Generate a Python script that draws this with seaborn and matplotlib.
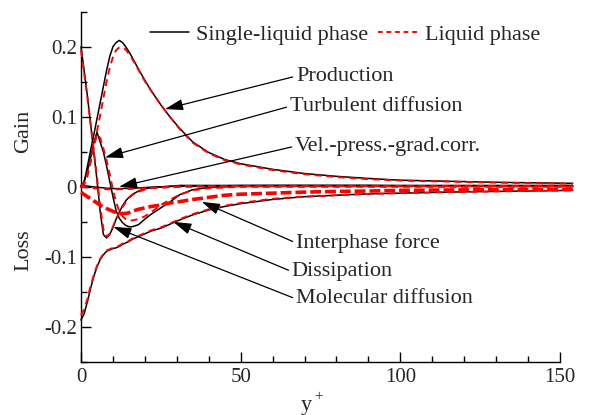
import numpy as np
import pandas as pd
import matplotlib
matplotlib.use("Agg")
import matplotlib.pyplot as plt
from matplotlib.lines import Line2D
from matplotlib.ticker import MultipleLocator, FixedLocator, FuncFormatter
import seaborn as sns

# ---------------- data ----------------
yplus = [0, 1, 2, 3, 4, 5, 6, 7, 8, 9, 10, 11, 12, 13, 14, 15, 16, 18, 20, 22,
         25, 28, 31, 35, 40, 45, 50, 60, 70, 80, 90, 100, 115, 130, 154]

# single-liquid phase (black solid)
prod_single = [0, 0.007, 0.029, 0.052, 0.074, 0.097, 0.12, 0.143, 0.166, 0.186, 0.2,
               0.206, 0.209, 0.206, 0.2, 0.193, 0.185, 0.168, 0.152, 0.137,
               0.117, 0.099, 0.083, 0.064, 0.049, 0.039, 0.033, 0.025, 0.019, 0.015,
               0.012, 0.0095, 0.008, 0.0065, 0.005]
turb_single = [0, 0.008, 0.022, 0.041, 0.063, 0.078, 0.064, 0.05, 0.03, 0.008, -0.014,
               -0.034, -0.045, -0.051, -0.055, -0.057, -0.057, -0.054, -0.046, -0.039,
               -0.03, -0.021, -0.011, -0.004, -0.001, 0.0, 0.001, 0.001, 0.001, 0.001,
               0.001, 0.001, 0.001, 0.001, 0.001]
vpg_single = [0.002, 0.0015, 0.001, 0.0005, 0.0, -0.0005, -0.001, -0.0015, -0.002, -0.002,
              -0.0025, -0.0025, -0.0025, -0.0025, -0.0022, -0.002, -0.002, -0.0015, -0.001, -0.0005,
              0.0, 0.0005, 0.0008, 0.001, 0.0012, 0.0015, 0.0018, 0.002, 0.002, 0.002,
              0.002, 0.002, 0.002, 0.002, 0.002]
diss_single = [-0.19, -0.181, -0.164, -0.145, -0.128, -0.114, -0.104, -0.097, -0.092, -0.09,
               -0.088, -0.087, -0.085, -0.082, -0.08, -0.078, -0.075, -0.071, -0.067, -0.063,
               -0.059, -0.053, -0.047, -0.04, -0.033, -0.028, -0.024, -0.018, -0.014, -0.012,
               -0.01, -0.009, -0.0075, -0.0065, -0.005]
mol_single = [0.2, 0.165, 0.13, 0.09, 0.05, 0.01, -0.035, -0.068, -0.073, -0.068,
              -0.058, -0.046, -0.036, -0.027, -0.02, -0.015, -0.011, -0.006, -0.003, -0.001,
              0.0, 0.001, 0.002, 0.002, 0.002, 0.002, 0.002, 0.002, 0.002, 0.002,
              0.002, 0.0015, 0.0015, 0.001, 0.001]

# liquid phase (red dashed)
prod_liquid = [0, 0.003, 0.015, 0.035, 0.057, 0.079, 0.102, 0.126, 0.15, 0.17, 0.185,
               0.195, 0.199, 0.199, 0.196, 0.19, 0.183, 0.167, 0.151, 0.137,
               0.117, 0.099, 0.082, 0.063, 0.048, 0.038, 0.032, 0.024, 0.018, 0.014,
               0.011, 0.009, 0.0075, 0.006, 0.0045]
turb_liquid = [0, 0.006, 0.018, 0.036, 0.057, 0.075, 0.07, 0.055, 0.038, 0.018, -0.004,
               -0.022, -0.035, -0.042, -0.046, -0.048, -0.048, -0.046, -0.042, -0.036,
               -0.026, -0.018, -0.011, -0.005, -0.002, -0.001, 0.0, 0.0, 0.0, 0.0,
               0.0, 0.0, 0.0, 0.0, 0.0]
vpg_liquid = [0.0, -0.0005, -0.001, -0.0015, -0.002, -0.0025, -0.003, -0.003, -0.0035, -0.0035,
              -0.0035, -0.0035, -0.0035, -0.0033, -0.003, -0.003, -0.0028, -0.0025, -0.002, -0.0015,
              -0.001, -0.0005, 0.0, 0.0, 0.0005, 0.0005, 0.001, 0.001, 0.001, 0.001,
              0.001, 0.001, 0.001, 0.001, 0.001]
diss_liquid = [-0.183, -0.175, -0.16, -0.142, -0.126, -0.113, -0.103, -0.096, -0.091, -0.089,
               -0.087, -0.086, -0.084, -0.081, -0.079, -0.077, -0.074, -0.07, -0.066, -0.062,
               -0.058, -0.052, -0.046, -0.039, -0.032, -0.027, -0.023, -0.017, -0.014, -0.012,
               -0.01, -0.009, -0.0075, -0.0065, -0.005]
mol_liquid = [0.195, 0.162, 0.128, 0.09, 0.052, 0.014, -0.028, -0.06, -0.071, -0.067,
              -0.057, -0.046, -0.037, -0.029, -0.022, -0.016, -0.012, -0.007, -0.004, -0.002,
              -0.001, 0.0, 0.001, 0.001, 0.001, 0.001, 0.001, 0.001, 0.001, 0.001,
              0.001, 0.001, 0.001, 0.001, 0.001]
inter_liquid = [-0.008, -0.011, -0.014, -0.017, -0.02, -0.023, -0.026, -0.029, -0.031, -0.033,
                -0.035, -0.037, -0.038, -0.038, -0.038, -0.037, -0.035, -0.032, -0.03, -0.028,
                -0.026, -0.023, -0.021, -0.018, -0.015, -0.012, -0.0105, -0.009, -0.0075, -0.0065,
                -0.006, -0.005, -0.0045, -0.004, -0.0035]

legend_labels = ["Single-liquid phase", "Liquid phase"]
x_ticks = [0, 50, 100, 150]
y_ticks = [-0.2, -0.1, 0, 0.1, 0.2]

# annotation labels: (text, arrow tip (y+, value), text anchor (y+, value))
annotations = [
    ("Production", (26.3, 0.111), (67.3, 0.158)),
    ("Turbulent diffusion", (7.5, 0.042), (65.4, 0.115)),
    ("Vel.-press.-grad.corr.", (11.9, 0.0), (67.0, 0.058)),
    ("Interphase force", (37.8, -0.0214), (67.3, -0.080)),
    ("Dissipation", (28.9, -0.050), (66.0, -0.121)),
    ("Molecular diffusion", (10.1, -0.057), (67.3, -0.160)),
]

# ---------------- style ----------------
sns.set_style("ticks")
plt.rcParams["font.family"] = ["Liberation Serif", "DejaVu Serif"]
plt.rcParams["axes.unicode_minus"] = False

W, H = 596, 415
fig = plt.figure(figsize=(W / 100, H / 100), dpi=100)
ax = fig.add_axes([81 / W, 53 / H, 479 / W, 350.3 / H])

df = pd.DataFrame({
    "yplus": yplus,
    "prod_s": prod_single, "turb_s": turb_single, "vpg_s": vpg_single,
    "diss_s": diss_single, "mol_s": mol_single,
    "prod_l": prod_liquid, "turb_l": turb_liquid, "vpg_l": vpg_liquid,
    "diss_l": diss_liquid, "mol_l": mol_liquid, "inter_l": inter_liquid,
})

for col in ["prod_s", "turb_s", "vpg_s", "diss_s", "mol_s"]:
    sns.lineplot(data=df, x="yplus", y=col, ax=ax, color="black", lw=1.1,
                 clip_on=False, zorder=3)
for col in ["prod_l", "turb_l", "vpg_l", "diss_l", "mol_l"]:
    sns.lineplot(data=df, x="yplus", y=col, ax=ax, color="#ff0000", lw=1.4,
                 linestyle=(0, (3.5, 2.5)), clip_on=False, zorder=4)
sns.lineplot(data=df, x="yplus", y="inter_l", ax=ax, color="#ff0000", lw=2.6,
             linestyle=(0, (3.0, 1.1)), clip_on=False, zorder=4)

ax.set_xlim(0, 150)
ax.set_ylim(-0.25, 0.25)
ax.xaxis.set_major_locator(FixedLocator(x_ticks))
ax.xaxis.set_minor_locator(MultipleLocator(10))
ax.yaxis.set_major_locator(FixedLocator(y_ticks))
ax.yaxis.set_minor_locator(MultipleLocator(0.05))
ax.yaxis.set_major_formatter(FuncFormatter(lambda v, p: "%g" % round(v, 3)))
ax.tick_params(which="both", direction="in", labelsize=15, color="black", width=1.0)
ax.tick_params(which="major", length=7.5)
ax.tick_params(which="minor", length=4.3)
ax.tick_params(axis="x", pad=4)
ax.tick_params(axis="y", pad=3)
for s in ["top", "right"]:
    ax.spines[s].set_visible(False)
for s in ["left", "bottom"]:
    ax.spines[s].set_linewidth(1.0)
    ax.spines[s].set_color("black")
ax.set_xlabel("")
ax.set_ylabel("")

fig.text(306 / W, 1 - 410 / H, "y", ha="center", va="baseline", fontsize=16)
fig.text(319 / W, 1 - 400 / H, "+", ha="center", va="baseline", fontsize=11)
fig.text(24 / W, 1 - 131 / H, "Gain", rotation=90, ha="center", va="center", fontsize=16)
fig.text(24 / W, 1 - 250 / H, "Loss", rotation=90, ha="center", va="center", fontsize=16)

for text, tip, anchor in annotations:
    ax.annotate(text, xy=tip, xytext=anchor, textcoords="data", ha="left", va="center",
                fontsize=16, annotation_clip=False, zorder=6,
                arrowprops=dict(arrowstyle="-|>,head_length=0.55,head_width=0.17",
                                color="black", lw=0.9, mutation_scale=20,
                                shrinkA=0, shrinkB=0, relpos=(0, 0.5)))

handles = [Line2D([], [], color="black", lw=1.1),
           Line2D([], [], color="#ff0000", lw=1.4, linestyle=(0, (2.4, 2.0)))]
ax.legend(handles, legend_labels, loc="center", bbox_to_anchor=(345 / W, 1 - 35 / H),
          bbox_transform=fig.transFigure, ncol=2, frameon=False, fontsize=16,
          handlelength=1.75, handletextpad=0.35, columnspacing=0.45,
          borderpad=0, borderaxespad=0)

fig.savefig("out.png", dpi=100)
